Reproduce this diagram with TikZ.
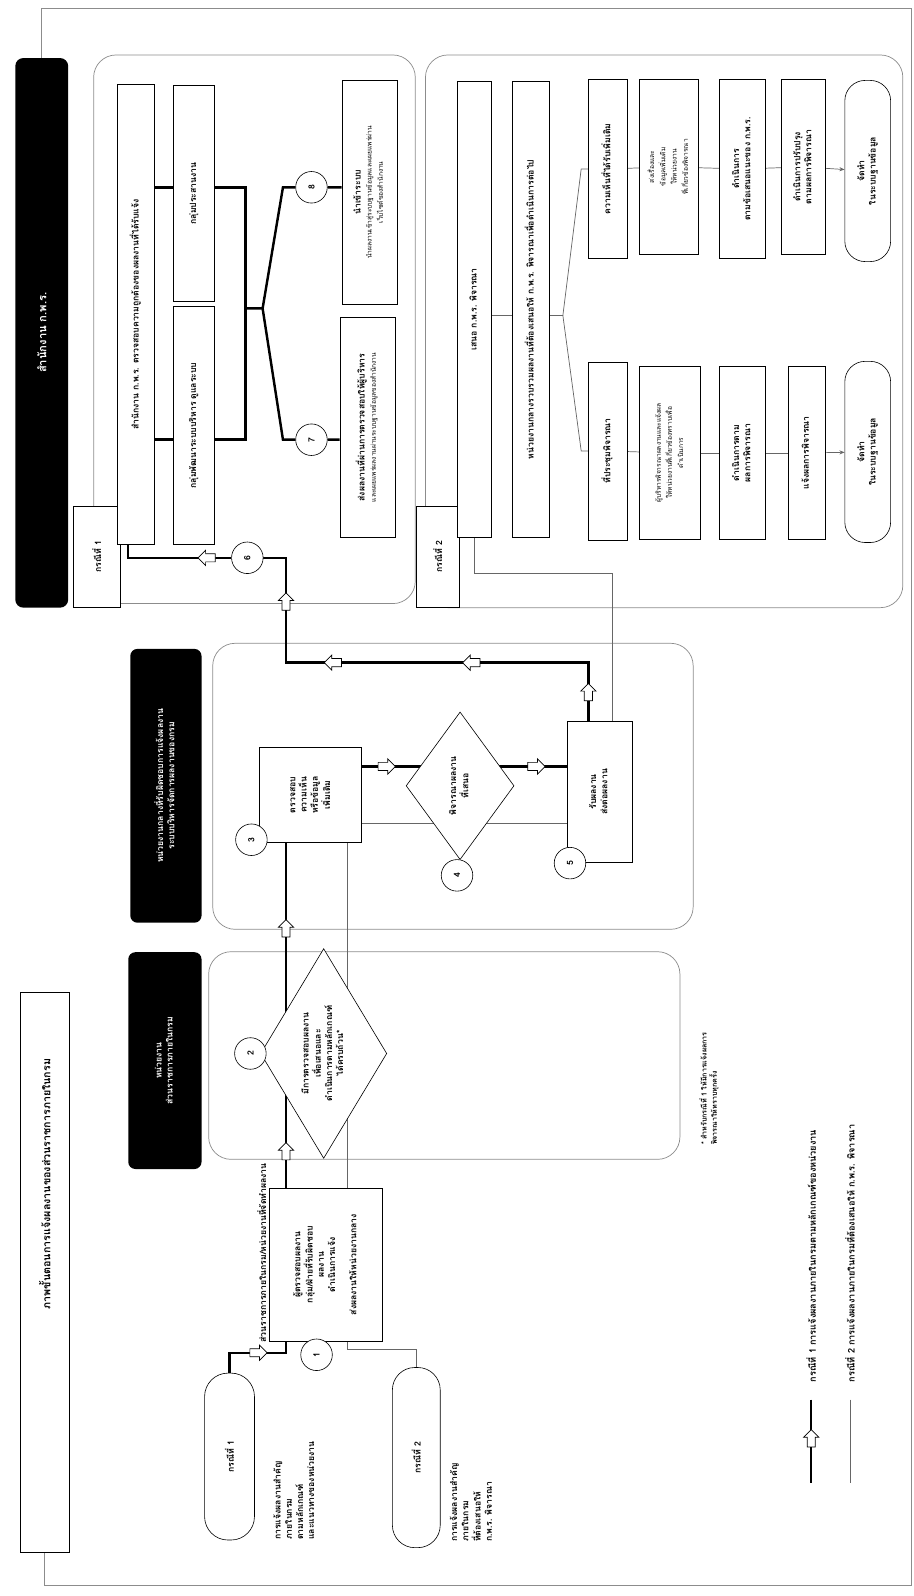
\documentclass[tikz,border=0pt]{standalone}
\usepackage{fontspec}
\setmainfont{Loma}[Script=Thai]
\usetikzlibrary{shapes.geometric,arrows.meta,calc}
\pgfdeclarelayer{back}
\pgfdeclarelayer{bg}
\pgfsetlayers{back,bg,main}
\newcommand{\rt}[1]{\rotatebox{90}{\begin{tabular}{@{}c@{}}#1\end{tabular}}}
\newcommand{\rl}[1]{\rotatebox{90}{\begin{tabular}{@{}l@{}}#1\end{tabular}}}
\newcommand{\sm}{\fontsize{6.5}{8.5}\selectfont\mdseries}
\begin{document}
\begin{tikzpicture}[x=1pt,y=-1pt]
\tikzset{
 box/.style={draw, line width=0.6pt, fill=white, inner sep=0pt, font=\fontsize{8.5}{11}\selectfont\bfseries},
 stad/.style={box, rounded corners=20pt},
 sec/.style={draw=black!45, line width=0.7pt, rounded corners=22pt, inner sep=0pt},
 hdr/.style={fill=black, rounded corners=7pt, text=white, inner sep=0pt, font=\fontsize{8.5}{11}\selectfont\bfseries},
 num/.style={circle, draw, line width=0.6pt, fill=white, minimum size=31pt, inner sep=0pt, font=\fontsize{8.5}{8.5}\selectfont\bfseries},
 thk/.style={line width=2.4pt},
 thn/.style={draw=black!60, line width=0.7pt},
 dia/.style={diamond, draw, line width=0.6pt, fill=white, inner sep=0pt},
 free/.style={inner sep=0pt, font=\fontsize{8.5}{11}\selectfont\bfseries},
 harr/.pic={\draw[fill=white, line width=0.7pt] (-8.5,-4) -- (1,-4) -- (1,-7.5) -- (8.5,0) -- (1,7.5) -- (1,4) -- (-8.5,4) -- cycle;},
}
\useasboundingbox (0,0) rectangle (897,1568);

% ---------- frame, title, headers
\node[box, minimum width=48pt, minimum height=550pt] (title) at (44,1250) {};
\node[free, anchor=north, font=\fontsize{10.5}{12}\selectfont\bfseries] (titlet) at (44,1040) {\rotatebox{90}{ภาพขั้นตอนการแจ้งผลงานของส่วนราชการภายในกรม}};
\node[hdr, rounded corners=8pt, minimum width=52pt, minimum height=540pt] (bar) at (41,327) {\rotatebox{90}{\fontsize{11}{13}\selectfont สำนักงาน ก.พ.ร.}};
\node[hdr, minimum width=72pt, minimum height=213pt] (hA) at (162,1042) {\rt{หน่วยงาน\\ส่วนราชการภายในกรม}};
\node[hdr, minimum width=70pt, minimum height=269pt] (hB) at (163,772) {\rt{หน่วยงานกลางที่รับผิดชอบการแจ้งผลงาน\\ระบบบริหารจัดการผลงานของกรม}};

\coordinate (frTL) at (42,8);
\coordinate (frBR) at (895,1558);

% ---------- sections
\begin{pgfonlayer}{back}
\node[sec, minimum width=463pt, minimum height=204pt] (secA) at (436.5,1037) {};
\node[sec, minimum width=472pt, minimum height=281pt] (secB) at (445,772.5) {};
\node[sec, minimum width=316pt, minimum height=539pt] (secC) at (250,323.5) {};
\node[sec, minimum width=469pt, minimum height=543pt] (secD) at (652.5,325.5) {};
\draw[draw=black!45, line width=0.8pt] (bar.north) |- (frBR |- frTL) -- (frBR) -| (title.south);
\end{pgfonlayer}

\node[box, minimum width=46pt, minimum height=100pt] (lab1) at (95,547) {\rotatebox{90}{กรณีที่ 1}};
\node[box, minimum width=42pt, minimum height=100pt] (lab2) at (430,547) {\rotatebox{90}{กรณีที่ 2}};

% ---------- section C (case 1, office)
\node[box, minimum width=37pt, minimum height=452pt] (C1) at (133.5,309) {\rt{สำนักงาน ก.พ.ร. ตรวจสอบความถูกต้องของผลงานที่ได้รับแจ้ง}};
\node[box, minimum width=41pt, minimum height=212pt] (C2) at (190.5,190) {\rt{กลุ่มประสานงาน}};
\node[box, minimum width=41pt, minimum height=234pt] (C3) at (190.5,418) {\rt{กลุ่มพัฒนาระบบบริหาร ดูแลระบบ}};
\node[box, minimum width=54pt, minimum height=216pt] (C4) at (361,420) {\rt{ส่งผลงานที่ผ่านการตรวจสอบให้ผู้บริหาร\\\sm และเผยแพร่ผลงานผ่านระบบฐานข้อมูลของสำนักงาน}};
\node[box, minimum width=54pt, minimum height=220pt] (C5) at (363,189) {\rt{นำเข้าระบบ\\\sm นำผลงานเข้าสู่ระบบฐานข้อมูลและเผยแพร่ผ่าน\\\sm เว็บไซต์ของสำนักงาน}};
\node[num] (c6) at (243,548) {\rotatebox{90}{6}};
\node[num] (c7) at (306,432) {\rotatebox{90}{7}};
\node[num] (c8) at (306,184) {\rotatebox{90}{8}};

% ---------- section D (case 2)
\node[box, minimum width=34pt, minimum height=448pt] (D1) at (466,304) {\rt{เสนอ ก.พ.ร. พิจารณา}};
\node[box, minimum width=37pt, minimum height=448pt] (D2) at (521.5,304) {\rt{หน่วยงานกลางรวบรวมผลงานที่ต้องเสนอให้ ก.พ.ร. พิจารณาเพื่อดำเนินการต่อไป}};
\node[box, minimum width=38pt, minimum height=176pt] (E1) at (597,166) {\rt{ความเห็นที่ได้รับเพิ่มเติม}};
\node[box, minimum width=58pt, minimum height=172pt] (E2) at (657,164) {\rt{\sm ส่งเรื่องและ\\\sm ข้อมูลเพิ่มเติม\\\sm ให้หน่วยงาน\\\sm ที่เกี่ยวข้องพิจารณา}};
\node[box, minimum width=45pt, minimum height=176pt] (E3) at (729.5,166) {\rt{ดำเนินการ\\ตามข้อเสนอแนะของ ก.พ.ร.}};
\node[box, minimum width=43pt, minimum height=172pt] (E4) at (789.5,164) {\rt{ดำเนินการปรับปรุง\\ตามผลการพิจารณา}};
\node[stad, minimum width=45pt, minimum height=178pt] (E5) at (852.5,168) {\rt{จัดทำ\\ในระบบฐานข้อมูล}};
\node[box, minimum width=38pt, minimum height=175pt] (F1) at (597,443) {\rt{ที่ประชุมพิจารณา}};
\node[box, minimum width=60pt, minimum height=170pt] (F2) at (658,445) {\rt{\sm ผู้บริหารพิจารณาผลงานและแจ้งผล\\\sm ให้หน่วยงานที่เกี่ยวข้องทราบเพื่อ\\\sm ดำเนินการ}};
\node[box, minimum width=45pt, minimum height=170pt] (F3) at (729.5,445) {\rt{ดำเนินการตาม\\ผลการพิจารณา}};
\node[box, minimum width=37pt, minimum height=170pt] (F4) at (792.5,445) {\rt{แจ้งผลการพิจารณา}};
\node[stad, minimum width=45pt, minimum height=178pt] (F5) at (852.5,444) {\rt{จัดทำ\\ในระบบฐานข้อมูล}};

% ---------- section B
\node[box, minimum width=100pt, minimum height=94pt] (B1) at (305,781) {\rt{ตรวจสอบ\\ความเห็น\\หรือข้อมูล\\เพิ่มเติม}};
\node[dia, minimum width=106pt, minimum height=145pt] (B2) at (452,772) {};
\node[free] (B2t) at (B2.center) {\rt{พิจารณาผลงาน\\ที่เสนอ}};
\node[box, minimum width=64pt, minimum height=138pt] (B3) at (589,778) {\rt{รับผลงาน\\ส่งต่อผลงาน}};
\node[num] (c3) at (247,825) {\rotatebox{90}{3}};
\node[num] (c4) at (449,860) {\rotatebox{90}{4}};
\node[num] (c5) at (560,848) {\rotatebox{90}{5}};

% ---------- section A
\node[dia, minimum width=124pt, minimum height=206pt] (A1) at (318,1035) {};
\node[free] (A1t) at (A1.center) {\rt{มีการตรวจสอบผลงาน\\เพื่อเสนอและ\\ดำเนินการตามหลักเกณฑ์\\ได้ครบถ้วน*}};
\node[num] (c2) at (246,1035) {\rotatebox{90}{2}};
\node[free, font=\fontsize{7}{9}\selectfont\bfseries, anchor=south] (fn) at (697,1125) {\rl{* สำหรับกรณีที่ 1 ให้มีการแจ้งผลการ\\พิจารณาให้ทราบทุกครั้ง}};

% ---------- left part
\node[box, minimum width=111pt, minimum height=151pt] (A0) at (320.5,1242.5) {\rt{ผู้ตรวจสอบผลงาน\\กลุ่ม/ฝ่ายที่รับผิดชอบ\\ผลงาน\\ดำเนินการแจ้ง\\[10pt]ส่งผลงานให้หน่วยงานกลาง}};
\node[free, anchor=south] (A0l) at (257,1319) {\rotatebox{90}{ส่วนราชการภายในกรม/หน่วยงานที่จัดทำผลงาน}};
\node[num] (c1) at (311,1331) {\rotatebox{90}{1}};
\node[stad, rounded corners=23pt, minimum width=49pt, minimum height=164pt] (S1) at (225.5,1431) {\rotatebox{90}{กรณีที่ 1}};
\node[stad, rounded corners=22pt, minimum width=47pt, minimum height=177pt] (S2) at (409,1432) {\rotatebox{90}{กรณีที่ 2}};
\node[free, anchor=south] (S1t) at (290,1513) {\rl{การแจ้งผลงานสำคัญ\\ภายในกรม\\ตามหลักเกณฑ์\\และแนวทางของหน่วยงาน}};
\node[free, anchor=south] (S2t) at (464,1515) {\rl{การแจ้งผลงานสำคัญ\\ภายในกรม\\ที่ต้องเสนอให้\\ก.พ.ร. พิจารณา}};

% ---------- legend
\coordinate (L1a) at (797,1375);
\coordinate (L1b) at (797,1457);
\coordinate (L2a) at (835,1375);
\coordinate (L2b) at (835,1457);
\node[free, anchor=south, font=\fontsize{9}{11}\selectfont\bfseries] (L1t) at (797,1358) {\rotatebox{90}{กรณีที่ 1 การแจ้งผลงานภายในกรมตามหลักเกณฑ์ของหน่วยงาน}};
\node[free, anchor=south, font=\fontsize{9}{11}\selectfont\bfseries] (L2t) at (835,1358) {\rotatebox{90}{กรณีที่ 2 การแจ้งผลงานภายในกรมที่ต้องเสนอให้ ก.พ.ร. พิจารณา}};

% ---------- helper coordinates
\coordinate (xk) at (281,0);
\coordinate (xn) at (341,0);
\coordinate (xb) at (578,0);
\coordinate (xt) at (602,0);
\coordinate (xc) at (126,0);
\coordinate (yu) at (0,184);
\coordinate (yl) at (0,432);
\coordinate (y1) at (0,753);
\coordinate (y2) at (0,809);
\coordinate (yd) at (0,310);

% ---------- connectors
\begin{pgfonlayer}{bg}
\draw[thk] (S1.north) |- (281,1329) -- (A0.south -| xk);
\draw[thn] (S2.north) |- (341,1326) -- (A0.south -| xn);
\draw[thk] (A0.north -| xk) -- (B1.south -| xk);
\draw[thn] (A0.north -| xn) -- (B1.south -| xn);
\draw[thk] (B1.east |- y1) -- (B2.center |- y1) -- (B3.west |- y1);
\draw[thn] (B1.east |- y2) -- (B3.west |- y2);
\draw[thk] (B3.north -| xb) |- (281,651) -- (281,548) -- (c6) -- (126,548) -- (C1.south -| xc);
\draw[thn] (B3.north -| xt) |- (466,563) -- (D1.south);
\draw[thk] (C1.east |- yu) -- (C2.west |- yu);
\draw[thk] (C1.east |- yl) -- (C3.west |- yl);
\draw[thk] (C2.east |- yu) -- (241,184) -- (241,432) -- (C3.east |- yl);
\draw[thk] (241,303) -- (258,303) -- (278,184) -- (c8) -- (C5.west |- yu);
\draw[thk] (258,303) -- (278,432) -- (c7) -- (C4.west |- yl);
\draw[thn] (D1.east |- yd) -- (D2.west |- yd);
\draw[thn] (D2.east |- yd) -- (553,310) -- (571,166) -- (E1.west);
\draw[thn] (553,310) -- (571,443) -- (F1.west);
\draw[thn] (E1) -- (E2);
\draw[thn] (E2) -- (E3);
\draw[thn] (E3) -- (E4);
\draw[thn, -{Stealth[length=5pt,width=4pt]}] (E4) -- (E5);
\draw[thn] (F1) -- (F2);
\draw[thn] (F2) -- (F3);
\draw[thn] (F3) -- (F4);
\draw[thn, -{Stealth[length=5pt,width=4pt]}] (F4) -- (F5);
\draw[thk] (L1a) -- (L1b);
\draw[thn] (L2a) -- (L2b);
\end{pgfonlayer}

% ---------- hollow flow arrows
\pic at (254,1329) {harr};
\pic[rotate=90] at (281,1131) {harr};
\pic[rotate=90] at (281,912) {harr};
\pic at (380,753) {harr};
\pic at (527,753) {harr};
\pic[rotate=90] at (578,680) {harr};
\pic[rotate=180] at (463,651) {harr};
\pic[rotate=180] at (327,651) {harr};
\pic[rotate=90] at (281,591) {harr};
\pic[rotate=180] at (203,548) {harr};
\pic[rotate=90] at (797,1413) {harr};
\end{tikzpicture}
\end{document}
